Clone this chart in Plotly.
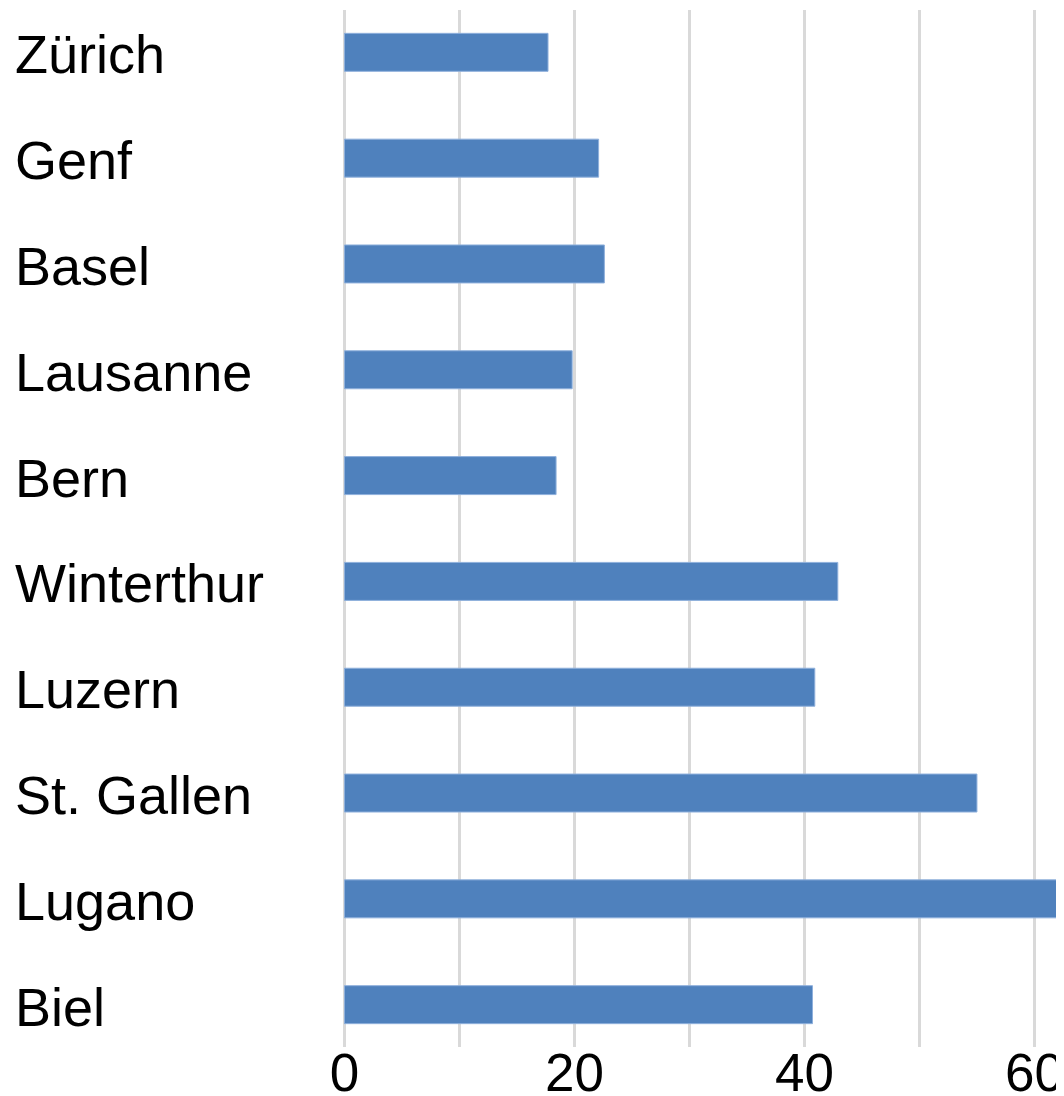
import plotly.graph_objects as go

cities = ["Zürich", "Genf", "Basel", "Lausanne", "Bern",
          "Winterthur", "Luzern", "St. Gallen", "Lugano", "Biel"]
values = [17.7, 22.1, 22.6, 19.8, 18.4, 42.9, 40.9, 55.0, 65.0, 40.7]
x_tick_vals = [0, 20, 40, 60]
x_tick_text = ["0", "20", "40", "60"]

FONT = "Liberation Sans, Arial, sans-serif"
GRID = "#d9d9d9"

fig = go.Figure(
    go.Bar(
        y=cities,
        x=values,
        orientation="h",
        marker=dict(color="#4f81bd", line=dict(color="#8fb0dc", width=1)),
        hoverinfo="x+y",
    )
)

annotations = [
    dict(
        text=c, x=0, y=c, xref="paper", yref="y",
        xanchor="left", yanchor="middle", xshift=-327, yshift=-2,
        showarrow=False, font=dict(family=FONT, size=54, color="#000000"),
    )
    for c in cities
]

fig.update_layout(
    width=1064,
    height=1096,
    margin=dict(l=332, r=8, t=2, b=57, autoexpand=False),
    paper_bgcolor="white",
    plot_bgcolor="white",
    bargap=0.641,
    showlegend=False,
    annotations=annotations,
    xaxis=dict(
        range=[-0.39, 62.57],
        tickvals=x_tick_vals,
        ticktext=x_tick_text,
        automargin=False,
        ticklabelstandoff=-10,
        showgrid=True,
        gridcolor=GRID,
        gridwidth=3,
        zeroline=True,
        zerolinecolor=GRID,
        zerolinewidth=3,
        showline=False,
        ticks="",
        minor=dict(dtick=10, tick0=0, showgrid=True, gridcolor=GRID, gridwidth=3),
        tickfont=dict(family=FONT, size=53, color="#000000"),
    ),
    yaxis=dict(
        categoryorder="array",
        categoryarray=cities,
        range=[9.4, -0.4],
        automargin=False,
        showticklabels=False,
        showgrid=False,
        zeroline=False,
        showline=False,
        ticks="",
    ),
)

fig.write_html("out.html")
